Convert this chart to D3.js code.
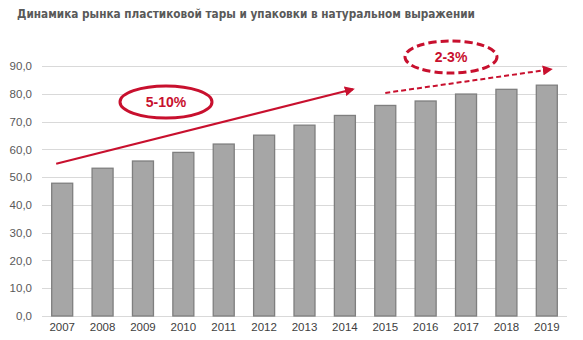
<!DOCTYPE html>
<html>
<head>
<meta charset="utf-8">
<script src="https://cdn.jsdelivr.net/npm/d3@7"></script>
<style>
  html, body { margin: 0; padding: 0; background: #fff; }
  svg { display: block; }
</style>
</head>
<body>
<svg id="chart" width="583" height="340"></svg>
<script>
// Market volume by year, natural units
const years = ["2007","2008","2009","2010","2011","2012","2013","2014","2015","2016","2017","2018","2019"];
const volumes = [47.8, 53.2, 55.8, 58.9, 61.9, 65.1, 68.7, 72.2, 75.8, 77.4, 79.9, 81.6, 83.1];
const yTicks = [0, 10, 20, 30, 40, 50, 60, 70, 80, 90];
// Growth-rate callouts: [fromYear, fromValue, toYear, toValue]
const growthFast = { label: "5-10%", from: ["2007", 54.8], to: ["2014", 81.6] };
const growthSlow = { label: "2-3%", from: ["2015", 80.3], to: ["2019", 88.8] };

const svg = d3.select("#chart");
const red = "#c8102e";
const textGray = "#595959";

const x = d3.scaleBand().domain(years).range([42, 567]).paddingInner(0.48).paddingOuter(0.24);
const y = d3.scaleLinear().domain([0, 90]).range([316, 66]);

// Title
svg.append("text")
  .attr("x", 17).attr("y", 18)
  .attr("font-family", "'DejaVu Sans', sans-serif")
  .attr("font-weight", "bold")
  .attr("font-size", 12.5)
  .attr("fill", textGray)
  .attr("textLength", 458)
  .attr("lengthAdjust", "spacingAndGlyphs")
  .text("Динамика рынка пластиковой тары и упаковки в натуральном выражении");

// Gridlines
svg.append("g")
  .selectAll("line")
  .data(yTicks)
  .join("line")
  .attr("x1", 42).attr("x2", 567)
  .attr("y1", d => Math.round(y(d)) + 0.5).attr("y2", d => Math.round(y(d)) + 0.5)
  .attr("stroke", "#d9d9d9").attr("stroke-width", 1);

// Y axis labels
const yAxis = d3.axisLeft(y).tickValues(yTicks).tickSize(0).tickPadding(0)
  .tickFormat(d => d3.format(".1f")(d).replace(".", ","));
const gy = svg.append("g").attr("transform", "translate(32,0)").call(yAxis);
gy.select(".domain").remove();
gy.selectAll("text")
  .attr("font-family", "'Liberation Sans', Arial, sans-serif")
  .attr("font-size", 11.5).attr("fill", textGray);

// X axis labels
const xAxis = d3.axisBottom(x).tickSize(0).tickPadding(0);
const gx = svg.append("g").attr("transform", "translate(0,323)").call(xAxis);
gx.select(".domain").remove();
gx.selectAll("text")
  .attr("font-family", "'Liberation Sans', Arial, sans-serif")
  .attr("font-size", 11.5).attr("fill", "#404040");

// Bars
svg.append("g")
  .selectAll("rect")
  .data(years.map((yr, i) => ({ yr, v: volumes[i] })))
  .join("rect")
  .attr("x", d => x(d.yr))
  .attr("y", d => y(d.v))
  .attr("width", x.bandwidth())
  .attr("height", d => y(0) - y(d.v))
  .attr("fill", "#a6a6a6")
  .attr("stroke", "#7f7f7f")
  .attr("stroke-width", 1.3);

// Arrow markers
const defs = svg.append("defs");
defs.append("marker")
  .attr("id", "arrow")
  .attr("viewBox", "0 0 10 10")
  .attr("refX", 8).attr("refY", 5)
  .attr("markerWidth", 5).attr("markerHeight", 5)
  .attr("markerUnits", "strokeWidth")
  .attr("orient", "auto")
  .append("path").attr("d", "M0,0 L10,5 L0,10 Z").attr("fill", red);

const cx = yr => x(yr) + x.bandwidth() / 2;

// Fast-growth trend arrow
svg.append("line")
  .attr("x1", cx(growthFast.from[0]) - 6).attr("y1", y(growthFast.from[1]))
  .attr("x2", cx(growthFast.to[0]) + 8).attr("y2", y(growthFast.to[1]))
  .attr("stroke", red).attr("stroke-width", 2)
  .attr("marker-end", "url(#arrow)");

// Slow-growth trend arrow (dashed)
svg.append("line")
  .attr("x1", cx(growthSlow.from[0])).attr("y1", y(growthSlow.from[1]))
  .attr("x2", cx(growthSlow.to[0]) + 4).attr("y2", y(growthSlow.to[1]))
  .attr("stroke", red).attr("stroke-width", 2)
  .attr("stroke-dasharray", "5,3")
  .attr("marker-end", "url(#arrow)");

// Callout ellipses with labels
function callout(cxp, cyp, label, dashed) {
  const g = svg.append("g");
  g.append("ellipse")
    .attr("cx", cxp).attr("cy", cyp).attr("rx", 46).attr("ry", 16)
    .attr("fill", "#fff").attr("stroke", red).attr("stroke-width", 3)
    .attr("stroke-dasharray", dashed ? "8,4" : null);
  g.append("text")
    .attr("x", cxp).attr("y", cyp + 5)
    .attr("text-anchor", "middle")
    .attr("font-family", "'Liberation Sans', Arial, sans-serif")
    .attr("font-weight", "bold").attr("font-size", 14)
    .attr("fill", red)
    .text(label);
}
callout(166, 102, growthFast.label, false);
callout(451, 57, growthSlow.label, true);
</script>
</body>
</html>
